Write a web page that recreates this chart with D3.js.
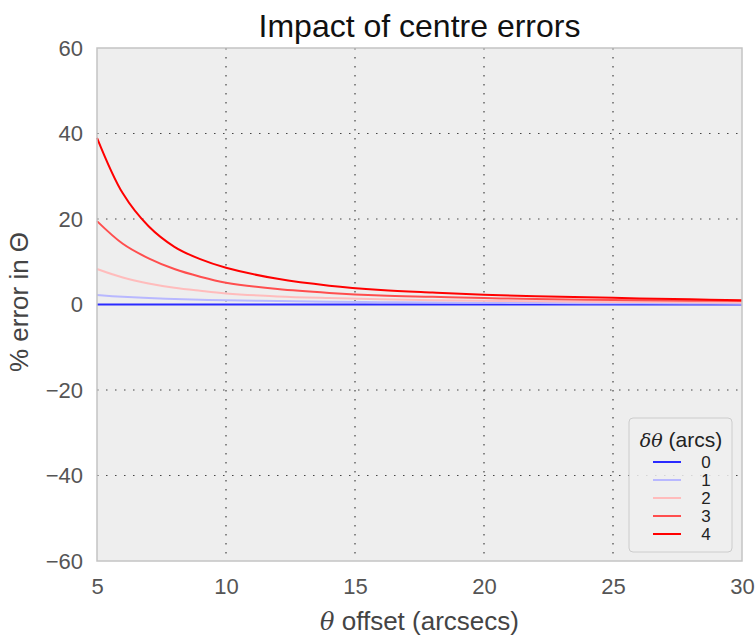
<!DOCTYPE html>
<html>
<head>
<meta charset="utf-8">
<script src="https://cdn.jsdelivr.net/npm/d3@7/dist/d3.min.js"></script>
<style>
  body { margin: 0; background: #fff; }
  svg { display: block; font-family: "Liberation Sans", Arial, sans-serif; }
</style>
</head>
<body>
<svg id="chart" width="756" height="638"></svg>
<script>
const thetaOffsets = [5, 6, 7, 8, 9, 10, 12, 14, 16, 18, 20, 22, 25, 28, 30];
const deltaThetas = [0, 1, 2, 3, 4];
const err0 = [0, 0, 0, 0, 0, 0, 0, 0, 0, 0, 0, 0, 0, 0, 0];
const err1 = [2.2, 1.8, 1.5, 1.3, 1.1, 1.0, 0.8, 0.65, 0.55, 0.45, 0.4, 0.35, 0.3, 0.25, 0.2];
const err2 = [8.3, 6.3, 4.9, 3.9, 3.2, 2.6, 1.9, 1.5, 1.2, 1.0, 0.85, 0.75, 0.6, 0.5, 0.45];
const err3 = [19.5, 14.2, 10.8, 8.3, 6.5, 5.1, 3.6, 2.7, 2.1, 1.8, 1.5, 1.3, 1.05, 0.9, 0.8];
const err4 = [39, 26, 18.3, 13.5, 10.6, 8.6, 6.0, 4.4, 3.4, 2.8, 2.3, 1.95, 1.55, 1.2, 1.0];
const xTicks = [5, 10, 15, 20, 25, 30];
const yTicks = [-60, -40, -20, 0, 20, 40, 60];

const series = [err0, err1, err2, err3, err4];
const colors = ['#2a2aff', '#b8b8ff', '#ffbcbc', '#ff4e4e', '#ff0000'];

const svg = d3.select('#chart');
const m = {top: 48, right: 14, bottom: 77, left: 97};
const W = 756 - m.left - m.right, H = 638 - m.top - m.bottom;

const x = d3.scaleLinear().domain([5, 30]).range([0, W]);
const y = d3.scaleLinear().domain([-60, 60]).range([H, 0]);

const g = svg.append('g').attr('transform', `translate(${m.left},${m.top})`);

g.append('rect').attr('width', W).attr('height', H).attr('fill', '#eeeeee');

// dotted grid
g.append('g').selectAll('line').data(xTicks.slice(1, -1)).enter().append('line')
  .attr('x1', d => x(d)).attr('x2', d => x(d)).attr('y1', 0).attr('y2', H)
  .attr('stroke', '#444').attr('stroke-width', 1.2).attr('stroke-dasharray', '1.5 7.5');
g.append('g').selectAll('line').data(yTicks.slice(1, -1)).enter().append('line')
  .attr('y1', d => y(d)).attr('y2', d => y(d)).attr('x1', 0).attr('x2', W)
  .attr('stroke', '#444').attr('stroke-width', 1.2).attr('stroke-dasharray', '1.5 7.5');

// axes
const xAxis = g.append('g').attr('transform', `translate(0,${H})`)
  .call(d3.axisBottom(x).tickValues(xTicks).tickSize(0).tickPadding(13));
const yAxis = g.append('g')
  .call(d3.axisLeft(y).tickValues(yTicks).tickSize(0).tickPadding(14)
    .tickFormat(d => d < 0 ? '\u2212' + Math.abs(d) : d));
[xAxis, yAxis].forEach(a => {
  a.select('.domain').remove();
  a.selectAll('text').attr('font-size', 22).attr('fill', '#555')
    .attr('font-family', '"Liberation Sans", Arial, sans-serif');
});
xAxis.selectAll('text').attr('dy', '0.92em');

// lines
const line = d3.line().x((d, i) => x(thetaOffsets[i])).y(d => y(d)).curve(d3.curveCatmullRom);
const plot = g.append('g');
series.forEach((s, k) => {
  plot.append('path').datum(s).attr('d', line)
    .attr('fill', 'none').attr('stroke', colors[k]).attr('stroke-width', 2);
});

// frame
g.append('rect').attr('width', W).attr('height', H)
  .attr('fill', 'none').attr('stroke', '#c4c4c4').attr('stroke-width', 1.5);

// title and labels
svg.append('text').attr('x', m.left + W / 2).attr('y', 37).attr('text-anchor', 'middle')
  .attr('font-size', 32).attr('fill', '#111').text('Impact of centre errors');

const xl = svg.append('text').attr('x', m.left + W / 2).attr('y', 630).attr('text-anchor', 'middle')
  .attr('font-size', 26).attr('fill', '#444');
xl.append('tspan').attr('font-style', 'italic').attr('font-family', '"DejaVu Serif", serif')
  .attr('font-size', 24).text('\u03B8');
xl.append('tspan').text(' offset (arcsecs)');

svg.append('text').attr('transform', 'translate(28,302) rotate(-90)')
  .attr('text-anchor', 'middle').attr('font-size', 26).attr('fill', '#444')
  .text('% error in \u0398');

// legend
const lg = svg.append('g').attr('transform', 'translate(629,418)');
lg.append('rect').attr('width', 103).attr('height', 134).attr('rx', 4)
  .attr('fill', '#efefef').attr('fill-opacity', 0.85).attr('stroke', '#cccccc');
const lt = lg.append('text').attr('x', 52).attr('y', 29).attr('text-anchor', 'middle')
  .attr('font-size', 21).attr('fill', '#222');
lt.append('tspan').attr('font-style', 'italic').attr('font-family', '"DejaVu Serif", serif')
  .attr('font-size', 19).text('\u03B4\u03B8');
lt.append('tspan').text(' (arcs)');
const items = lg.selectAll('.item').data(deltaThetas).enter().append('g')
  .attr('transform', (d, i) => `translate(0,${44 + i * 18})`);
items.append('line').attr('x1', 24).attr('x2', 52).attr('y1', 0).attr('y2', 0)
  .attr('stroke', (d, i) => colors[i]).attr('stroke-width', 2);
items.append('text').attr('x', 77).attr('y', 6).attr('text-anchor', 'middle')
  .attr('font-size', 17).attr('fill', '#222').text(d => d);
</script>
</body>
</html>
